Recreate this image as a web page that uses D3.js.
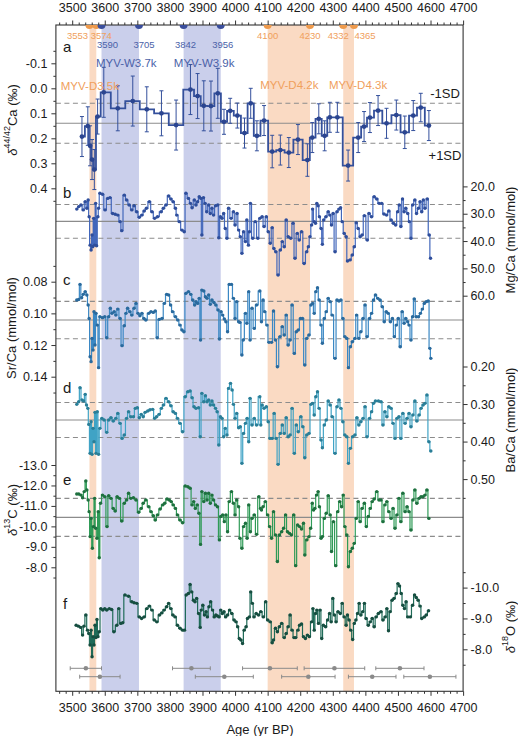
<!DOCTYPE html>
<html><head><meta charset="utf-8">
<script src="https://cdn.jsdelivr.net/npm/d3@7"></script>
<style>
body{margin:0;background:#fff}
text{font-family:"Liberation Sans",Arial,sans-serif;fill:#1a1a1a}
</style></head>
<body><svg id="chart" width="518" height="736"></svg>
<script>
// ---------------- DATA ----------------
const xMajorTicks = [3500,3600,3700,3800,3900,4000,4100,4200,4300,4400,4500,4600,4700];
const orangeBands = [[3553,3574],[4100,4230],[4332,4365]];
const blueBands = [[3590,3705],[3842,3956]];
const orangeDates = [3553,3574,4100,4230,4332,4365];
const blueDates = [3590,3705,3842,3956];
const bandNames = ["MYV-D3.5k","MYV-W3.7k","MYV-W3.9k","MYV-D4.2k","MYV-D4.3k"];
const datingAge = [3542,3585,3866,3967,4107,4225,4305,4421,4506,4598];
const datingErr = [48,62,58,89,84,82,93,73,74,80];
// mean and 1SD of panels a-e
const refMean = [0.14, 32.8, 0.1042, 0.3426, -10.44];
const refSD = [0.08, 6.2, 0.0118, 0.0466, 0.93];

// a: d44/42Ca [age, value, 2se]
const caSeries = [[3530,0.193,0.08],[3548,0.151,0.077],[3555,0.23,0.08],[3561,0.285,0.08],[3568,0.325,0.08],[3578,0.113,0.07],[3597,0.016,0.1],[3640,0.08,0.09],[3686,0.051,0.1],[3729,0.084,0.09],[3774,0.1,0.09],[3819,0.147,0.1],[3863,0.005,0.1],[3885,0.031,0.09],[3904,0.07,0.1],[3926,0.071,0.1],[3947,0.02,0.1],[3966,0.134,0.05],[3985,0.09,0.05],[4007,0.109,0.05],[4029,0.179,0.06],[4048,0.06,0.06],[4067,0.19,0.06],[4089,0.129,0.06],[4114,0.253,0.065],[4139,0.247,0.06],[4165,0.257,0.06],[4193,0.205,0.06],[4222,0.287,0.065],[4237,0.197,0.06],[4257,0.122,0.06],[4275,0.19,0.06],[4291,0.116,0.06],[4314,0.116,0.06],[4347,0.309,0.062],[4378,0.197,0.06],[4396,0.153,0.06],[4414,0.117,0.06],[4439,0.089,0.06],[4465,0.14,0.06],[4495,0.107,0.06],[4521,0.176,0.065],[4547,0.109,0.06],[4570,0.077,0.057],[4595,0.149,0.06]];

// b: Mg/Ca
const mgSeries = [[3514,28.3],[3520,27.4],[3527,26.8],[3534,28.6],[3540,25.6],[3545,28.0],[3549,25.0],[3552,31.1],[3555,41.5],[3558,43.3],[3561,37.8],[3563,42.1],[3566,31.7],[3569,41.5],[3572,26.2],[3575,41.7],[3579,31.1],[3581,28.0],[3585,22.5],[3593,22.9],[3601,28.6],[3609,24.4],[3616,24.1],[3624,29.9],[3632,30.2],[3640,30.5],[3647,32.9],[3652,36.2],[3660,23.2],[3667,25.0],[3675,26.8],[3683,28.6],[3690,27.1],[3698,29.3],[3706,31.3],[3714,30.5],[3721,29.0],[3728,28.0],[3737,25.6],[3745,29.3],[3753,31.7],[3762,31.1],[3773,29.3],[3780,28.0],[3788,26.8],[3796,23.5],[3803,24.6],[3810,25.6],[3817,28.0],[3821,30.5],[3829,32.9],[3837,36.0],[3844,36.6],[3849,22.5],[3857,24.4],[3863,26.2],[3868,27.8],[3875,25.0],[3880,26.8],[3885,25.6],[3890,23.8],[3895,24.4],[3898,37.8],[3903,24.1],[3908,26.2],[3913,29.3],[3919,26.8],[3924,29.9],[3929,28.0],[3934,30.5],[3940,27.1],[3947,26.8],[3950,38.8],[3955,31.1],[3960,31.7],[3965,29.9],[3970,35.4],[3975,39.0],[3980,28.0],[3988,31.7],[3995,29.3],[4000,34.1],[4006,29.9],[4011,36.0],[4016,38.4],[4021,44.5],[4026,36.6],[4032,40.2],[4036,32.3],[4041,41.5],[4044,36.6],[4047,26.2],[4054,39.0],[4062,32.9],[4070,39.0],[4076,31.7],[4083,31.1],[4089,34.7],[4096,31.1],[4102,36.6],[4108,40.8],[4114,35.1],[4119,42.7],[4125,43.9],[4132,52.4],[4139,43.3],[4145,40.2],[4151,42.1],[4157,32.3],[4163,38.4],[4171,39.0],[4178,33.5],[4184,46.3],[4191,37.2],[4197,39.6],[4204,36.6],[4212,48.2],[4220,43.9],[4225,42.1],[4230,38.4],[4235,34.1],[4238,28.3],[4243,32.9],[4247,33.5],[4251,26.2],[4255,27.1],[4259,31.1],[4264,35.4],[4268,41.2],[4272,32.3],[4279,31.1],[4286,29.3],[4291,30.5],[4296,34.1],[4301,29.9],[4307,43.9],[4313,29.3],[4319,28.3],[4324,27.8],[4329,32.9],[4335,37.2],[4341,38.4],[4345,47.3],[4353,46.9],[4360,45.1],[4366,42.1],[4372,33.3],[4378,35.4],[4384,38.4],[4390,37.8],[4397,30.7],[4406,39.6],[4411,29.9],[4419,31.1],[4427,23.8],[4435,24.6],[4442,26.2],[4450,26.2],[4457,30.1],[4465,30.5],[4472,29.0],[4479,32.3],[4486,33.5],[4493,34.1],[4499,29.3],[4504,26.8],[4509,34.7],[4514,24.6],[4519,29.3],[4524,28.0],[4530,29.9],[4535,32.9],[4540,39.0],[4545,26.8],[4552,25.0],[4557,29.9],[4563,28.0],[4568,25.6],[4573,29.3],[4578,25.0],[4583,28.0],[4590,24.6],[4596,37.8],[4600,46.3]];

// c: Sr/Ca
const srSeries = [[3514,0.0916],[3520,0.0912],[3524,0.0817],[3529,0.0901],[3534,0.088],[3540,0.0863],[3545,0.0884],[3549,0.0947],[3552,0.1032],[3555,0.1274],[3558,0.1305],[3561,0.1158],[3564,0.1232],[3567,0.0989],[3570,0.12],[3573,0.1],[3577,0.1074],[3581,0.1343],[3585,0.1021],[3593,0.1027],[3600,0.1021],[3606,0.1154],[3612,0.1021],[3617,0.0968],[3622,0.1],[3629,0.0989],[3634,0.1011],[3640,0.0973],[3647,0.1032],[3653,0.1204],[3660,0.1078],[3665,0.1],[3670,0.0968],[3677,0.0989],[3683,0.1011],[3690,0.0968],[3696,0.0937],[3702,0.1],[3708,0.1015],[3714,0.1],[3720,0.1032],[3726,0.1042],[3735,0.1],[3742,0.0989],[3749,0.0994],[3755,0.0985],[3761,0.1154],[3767,0.1038],[3776,0.1032],[3783,0.0937],[3790,0.088],[3796,0.0884],[3802,0.0947],[3808,0.0989],[3817,0.1021],[3824,0.1042],[3831,0.1074],[3837,0.1105],[3843,0.1116],[3849,0.0874],[3857,0.0863],[3864,0.088],[3870,0.0916],[3876,0.0947],[3880,0.0926],[3885,0.0937],[3890,0.0905],[3894,0.1168],[3898,0.0853],[3904,0.0859],[3909,0.0895],[3914,0.0905],[3919,0.0884],[3924,0.0943],[3929,0.0916],[3935,0.0931],[3941,0.0947],[3948,0.0979],[3952,0.1162],[3957,0.0989],[3962,0.1011],[3967,0.1036],[3972,0.1053],[3977,0.1116],[3982,0.0817],[3989,0.0817],[3995,0.0905],[4000,0.1032],[4005,0.0926],[4011,0.1053],[4015,0.1057],[4021,0.1263],[4025,0.1168],[4032,0.1],[4036,0.1063],[4042,0.0863],[4046,0.1168],[4052,0.0968],[4059,0.1095],[4066,0.0947],[4076,0.0859],[4081,0.1053],[4086,0.0916],[4091,0.0989],[4098,0.1074],[4104,0.1183],[4112,0.1183],[4118,0.0985],[4124,0.1168],[4130,0.1337],[4138,0.1147],[4145,0.1084],[4151,0.1137],[4157,0.1011],[4163,0.12],[4169,0.1168],[4175,0.0947],[4182,0.1253],[4188,0.1116],[4194,0.1105],[4201,0.1032],[4207,0.1032],[4214,0.1326],[4220,0.1158],[4227,0.1137],[4233,0.0947],[4238,0.0937],[4243,0.1],[4248,0.0863],[4253,0.0838],[4258,0.0916],[4264,0.1074],[4268,0.1189],[4274,0.1032],[4280,0.0989],[4286,0.0905],[4292,0.0926],[4298,0.1011],[4307,0.1284],[4313,0.0916],[4319,0.0922],[4325,0.0916],[4331,0.1032],[4337,0.1147],[4343,0.1158],[4348,0.1343],[4354,0.1211],[4360,0.1179],[4368,0.1158],[4373,0.1011],[4380,0.1158],[4386,0.1116],[4393,0.1032],[4399,0.0947],[4405,0.1147],[4413,0.1032],[4419,0.1],[4425,0.0916],[4431,0.0884],[4438,0.0905],[4445,0.0916],[4452,0.0958],[4458,0.1053],[4464,0.0989],[4470,0.1],[4477,0.1053],[4483,0.1032],[4489,0.1147],[4495,0.1074],[4501,0.1032],[4507,0.1211],[4513,0.0989],[4519,0.1063],[4524,0.1032],[4530,0.1053],[4534,0.1074],[4540,0.1168],[4545,0.1021],[4550,0.0909],[4556,0.1021],[4563,0.1021],[4569,0.1],[4575,0.0973],[4581,0.0937],[4587,0.0926],[4593,0.0922],[4598,0.1221],[4601,0.1284]];

// d: Ba/Ca
const baSeries = [[3514,0.3009],[3520,0.2938],[3524,0.2565],[3530,0.2893],[3535,0.292],[3540,0.2742],[3544,0.3027],[3548,0.3115],[3551,0.3542],[3555,0.4314],[3558,0.3471],[3561,0.4341],[3564,0.3648],[3567,0.4004],[3570,0.3222],[3573,0.4314],[3577,0.3204],[3581,0.4341],[3585,0.3648],[3591,0.3382],[3598,0.3426],[3606,0.3755],[3612,0.3426],[3619,0.3364],[3626,0.3453],[3634,0.3382],[3640,0.3249],[3647,0.3515],[3653,0.3915],[3660,0.3826],[3667,0.3382],[3673,0.3204],[3680,0.3337],[3688,0.3337],[3694,0.3115],[3700,0.3098],[3706,0.3364],[3712,0.3275],[3718,0.3337],[3724,0.3222],[3732,0.3187],[3739,0.3151],[3747,0.3142],[3753,0.3382],[3759,0.3337],[3767,0.3275],[3774,0.3115],[3780,0.3027],[3788,0.2849],[3796,0.2938],[3803,0.3044],[3810,0.3204],[3817,0.3249],[3823,0.3382],[3831,0.3515],[3839,0.3737],[3847,0.2805],[3855,0.2671],[3862,0.2654],[3868,0.2831],[3874,0.3071],[3880,0.3115],[3888,0.3098],[3893,0.387],[3898,0.2716],[3904,0.2938],[3909,0.2778],[3914,0.2938],[3919,0.2893],[3924,0.3027],[3929,0.292],[3934,0.3027],[3940,0.3115],[3945,0.3204],[3950,0.4092],[3955,0.3337],[3960,0.3382],[3965,0.387],[3970,0.3648],[3975,0.3826],[3980,0.2583],[3986,0.2449],[3991,0.2627],[3995,0.3009],[4000,0.3382],[4005,0.3249],[4011,0.3631],[4016,0.3604],[4021,0.4581],[4026,0.3782],[4032,0.3515],[4037,0.3382],[4042,0.4004],[4046,0.2849],[4052,0.3559],[4059,0.3382],[4066,0.3559],[4076,0.2805],[4079,0.3559],[4083,0.3027],[4089,0.3115],[4096,0.3071],[4102,0.3471],[4107,0.3915],[4114,0.3915],[4120,0.3249],[4126,0.3915],[4132,0.4607],[4139,0.3782],[4145,0.3559],[4151,0.3782],[4157,0.3364],[4163,0.387],[4169,0.3826],[4175,0.3115],[4182,0.4314],[4188,0.3559],[4194,0.3737],[4202,0.3337],[4208,0.3604],[4214,0.443],[4220,0.3826],[4227,0.3782],[4233,0.3009],[4238,0.2982],[4243,0.3293],[4248,0.2805],[4253,0.2671],[4258,0.3115],[4264,0.3959],[4268,0.4163],[4274,0.3559],[4280,0.3426],[4286,0.292],[4292,0.3027],[4298,0.3337],[4307,0.4314],[4313,0.3071],[4319,0.2893],[4325,0.3115],[4331,0.3471],[4337,0.3826],[4343,0.387],[4348,0.4581],[4354,0.4181],[4361,0.387],[4368,0.3826],[4374,0.3364],[4380,0.3559],[4386,0.3471],[4393,0.3382],[4399,0.3071],[4405,0.387],[4413,0.3382],[4419,0.3204],[4425,0.2982],[4431,0.292],[4440,0.292],[4448,0.2938],[4454,0.3559],[4460,0.3204],[4466,0.3337],[4472,0.3071],[4479,0.3115],[4485,0.3515],[4491,0.3915],[4497,0.3382],[4503,0.3337],[4509,0.3915],[4515,0.3249],[4522,0.3515],[4528,0.3382],[4534,0.3249],[4540,0.3604],[4546,0.3293],[4552,0.292],[4558,0.3453],[4565,0.3293],[4571,0.3115],[4577,0.3027],[4583,0.2982],[4589,0.276],[4595,0.4004],[4601,0.4252]];

// e: d13C
const c13Series = [[3514,-11.58],[3520,-11.58],[3527,-11.53],[3532,-11.40],[3537,-11.70],[3542,-12.22],[3545,-11.78],[3549,-11.29],[3552,-10.72],[3555,-9.50],[3558,-10.39],[3562,-8.93],[3565,-9.99],[3569,-11.37],[3572,-9.91],[3576,-9.42],[3580,-10.72],[3583,-8.47],[3587,-11.13],[3593,-11.53],[3600,-11.45],[3607,-9.99],[3612,-11.50],[3619,-11.37],[3626,-10.88],[3632,-10.75],[3638,-11.45],[3645,-11.37],[3652,-10.26],[3660,-11.13],[3667,-11.29],[3673,-11.62],[3680,-11.37],[3688,-11.40],[3696,-11.29],[3704,-10.69],[3712,-10.88],[3718,-11.13],[3726,-11.29],[3735,-10.96],[3742,-10.72],[3749,-10.52],[3755,-10.31],[3762,-10.56],[3770,-10.85],[3778,-11.05],[3784,-11.13],[3791,-11.34],[3798,-11.29],[3804,-11.21],[3810,-11.05],[3817,-10.88],[3823,-10.56],[3831,-10.31],[3839,-10.18],[3847,-11.97],[3855,-11.94],[3862,-11.86],[3868,-11.05],[3873,-11.21],[3878,-10.88],[3884,-11.05],[3889,-10.64],[3894,-9.12],[3898,-11.70],[3904,-11.21],[3909,-11.62],[3914,-11.29],[3919,-11.62],[3924,-11.13],[3929,-11.53],[3934,-11.29],[3940,-11.05],[3946,-10.96],[3952,-9.34],[3956,-10.48],[3962,-10.56],[3967,-10.23],[3972,-10.56],[3977,-9.74],[3982,-11.21],[3989,-11.70],[3995,-11.13],[4000,-10.56],[4005,-11.29],[4011,-10.96],[4015,-9.42],[4021,-8.93],[4026,-9.99],[4032,-10.15],[4037,-9.42],[4042,-11.05],[4047,-9.74],[4052,-10.39],[4059,-10.56],[4066,-9.61],[4073,-11.45],[4078,-10.88],[4081,-10.80],[4086,-10.96],[4093,-11.21],[4100,-10.56],[4106,-9.99],[4112,-9.42],[4118,-10.72],[4124,-9.58],[4130,-8.28],[4136,-9.58],[4143,-9.74],[4149,-9.91],[4155,-10.56],[4161,-9.74],[4167,-9.66],[4173,-9.58],[4180,-10.56],[4186,-8.08],[4192,-10.07],[4198,-9.99],[4204,-9.87],[4210,-10.15],[4214,-8.60],[4220,-9.34],[4227,-9.50],[4232,-9.91],[4237,-11.13],[4241,-10.80],[4245,-10.88],[4250,-11.53],[4255,-11.70],[4259,-10.96],[4264,-9.42],[4268,-9.50],[4274,-10.39],[4280,-10.64],[4286,-11.50],[4292,-10.56],[4296,-8.77],[4302,-10.23],[4309,-8.08],[4315,-10.72],[4321,-11.21],[4327,-10.96],[4332,-11.53],[4337,-9.99],[4343,-9.58],[4348,-8.03],[4354,-8.77],[4360,-8.93],[4366,-9.17],[4372,-10.39],[4378,-11.21],[4384,-10.23],[4390,-10.88],[4397,-11.13],[4403,-9.99],[4409,-10.48],[4415,-10.88],[4421,-11.21],[4427,-11.34],[4435,-11.70],[4442,-11.29],[4448,-11.29],[4454,-10.23],[4460,-11.05],[4466,-11.21],[4472,-10.72],[4479,-10.39],[4485,-10.88],[4491,-9.91],[4497,-10.56],[4503,-11.37],[4509,-10.23],[4515,-11.62],[4522,-10.72],[4528,-10.96],[4534,-10.72],[4540,-9.82],[4546,-11.29],[4552,-11.78],[4558,-11.13],[4565,-11.37],[4571,-11.45],[4577,-11.45],[4583,-11.53],[4589,-11.78],[4595,-10.39]];

// f: d18O
const o18Series = [[3512,-8.78],[3519,-8.75],[3526,-8.71],[3532,-8.46],[3536,-8.75],[3542,-9.11],[3547,-8.62],[3551,-8.51],[3555,-8.14],[3558,-8.62],[3561,-7.76],[3564,-8.41],[3567,-8.14],[3570,-8.78],[3573,-8.38],[3576,-8.97],[3579,-8.41],[3583,-8.57],[3588,-9.32],[3594,-9.27],[3600,-9.32],[3606,-9.27],[3614,-9.32],[3621,-9.29],[3628,-8.57],[3637,-8.78],[3643,-9.32],[3649,-8.84],[3655,-8.86],[3662,-9.76],[3673,-9.72],[3683,-9.54],[3690,-9.51],[3698,-9.49],[3706,-9.05],[3713,-9.00],[3721,-9.05],[3729,-9.32],[3737,-9.40],[3745,-9.27],[3752,-8.95],[3760,-8.89],[3768,-9.11],[3775,-9.18],[3782,-9.27],[3790,-9.38],[3796,-9.49],[3803,-9.32],[3809,-9.11],[3816,-9.05],[3823,-8.78],[3831,-8.68],[3839,-8.62],[3845,-8.62],[3850,-9.76],[3857,-9.81],[3862,-10.10],[3867,-9.86],[3872,-9.59],[3877,-9.54],[3882,-9.65],[3888,-9.16],[3893,-8.71],[3896,-9.27],[3901,-9.43],[3906,-9.11],[3911,-9.22],[3915,-9.05],[3920,-9.38],[3925,-9.54],[3931,-9.27],[3936,-9.05],[3941,-9.11],[3946,-9.08],[3951,-9.05],[3956,-9.27],[3961,-9.16],[3966,-9.22],[3971,-9.05],[3977,-9.11],[3983,-9.27],[3990,-9.16],[3997,-8.95],[4003,-8.89],[4008,-8.73],[4013,-8.35],[4018,-8.30],[4023,-8.19],[4028,-8.62],[4034,-8.73],[4038,-9.00],[4044,-9.05],[4048,-9.86],[4053,-9.49],[4058,-9.05],[4065,-9.16],[4072,-9.11],[4079,-9.22],[4087,-9.05],[4094,-9.54],[4100,-8.95],[4108,-8.89],[4114,-8.21],[4118,-8.30],[4124,-8.68],[4130,-8.57],[4136,-8.73],[4143,-8.84],[4151,-8.38],[4157,-8.51],[4163,-8.73],[4169,-9.11],[4175,-8.62],[4181,-8.38],[4186,-8.38],[4193,-8.62],[4198,-8.78],[4204,-8.82],[4210,-8.41],[4216,-8.35],[4222,-8.46],[4228,-8.41],[4235,-8.89],[4239,-9.32],[4243,-8.62],[4247,-9.16],[4251,-9.27],[4256,-8.84],[4261,-9.27],[4266,-8.35],[4271,-8.78],[4278,-8.73],[4284,-8.95],[4290,-9.16],[4295,-8.89],[4300,-9.65],[4305,-9.11],[4310,-8.89],[4316,-9.22],[4323,-9.16],[4329,-9.49],[4335,-9.05],[4341,-8.78],[4345,-9.11],[4350,-8.95],[4355,-8.62],[4361,-8.32],[4366,-8.84],[4371,-8.95],[4376,-9.16],[4381,-9.49],[4386,-9.11],[4392,-9.22],[4397,-9.49],[4402,-9.00],[4409,-8.78],[4415,-8.89],[4421,-9.00],[4427,-8.73],[4433,-9.05],[4440,-9.16],[4448,-9.22],[4454,-8.95],[4461,-9.05],[4466,-9.32],[4471,-8.60],[4476,-9.22],[4482,-9.59],[4488,-9.65],[4495,-9.81],[4500,-10.13],[4505,-10.05],[4510,-9.81],[4515,-9.43],[4520,-9.32],[4525,-9.54],[4530,-9.05],[4538,-9.05],[4545,-9.43],[4551,-9.76],[4556,-9.68],[4562,-9.59],[4568,-9.40],[4573,-9.00],[4581,-9.05],[4587,-9.11],[4594,-9.25]];

// ---------------- LAYOUT ----------------
const svg = d3.select('#chart');
const X0 = 55.9, X1 = 463.1, Y0 = 25, Y1 = 691.3;
const x = d3.scaleLinear().domain([3450, 4700]).range([X0, X1]);
const ORANGE_BAND = '#fadac3', BLUE_BAND = '#cacfeb';
const ORANGE_TXT = '#f0a05c', BLUE_TXT = '#4a62a8';

// bands
const gBands = svg.append('g');
gBands.selectAll('rect.ob').data(orangeBands).join('rect')
  .attr('x', d => x(d[0])).attr('width', d => x(d[1]) - x(d[0]))
  .attr('y', Y0).attr('height', Y1 - Y0).attr('fill', ORANGE_BAND);
gBands.selectAll('rect.bb').data(blueBands).join('rect')
  .attr('x', d => x(d[0])).attr('width', d => x(d[1]) - x(d[0]))
  .attr('y', Y0).attr('height', Y1 - Y0).attr('fill', BLUE_BAND);

const panels = [
  {id:'a', data:caSeries, dom:[-0.1,0.4], rng:[63.3,188.3], ref:0, color:'#34509c', dot:'#2b4590', lw:1.8, r:2.4,
   side:'left', majors:[-0.1,0,0.1,0.2,0.3,0.4], minors:[-0.15,-0.05,0.05,0.15,0.25,0.35,0.45], fmt:1, lx:63, ly:52},
  {id:'b', data:mgSeries, dom:[20,60], rng:[186.4,295.7], ref:1, color:'#4267bb', dot:'#2f4e9b', lw:1.2, r:1.7,
   side:'right', majors:[20,30,40,50,60], minors:[25,35,45,55], fmt:1, lx:63, ly:198},
  {id:'c', data:srSeries, dom:[0.08,0.14], rng:[281.7,376.7], ref:2, color:'#3b88c4', dot:'#2a6a9d', lw:1.2, r:1.7,
   side:'left', majors:[0.08,0.10,0.12,0.14], minors:[0.07,0.09,0.11,0.13,0.15], fmt:2, lx:63, ly:285},
  {id:'d', data:baSeries, dom:[0.2,0.5], rng:[366.5,479.1], ref:3, color:'#40a3c5', dot:'#2a7e97', lw:1.2, r:1.7,
   side:'right', majors:[0.2,0.3,0.4,0.5], minors:[0.25,0.35,0.45,0.55], fmt:2, lx:63, ly:393},
  {id:'e', data:c13Series, dom:[-13,-8], rng:[465,567.3], ref:4, color:'#2f9b57', dot:'#1e703f', lw:1.2, r:1.7,
   side:'left', majors:[-13,-12,-11,-10,-9,-8], minors:[-12.5,-11.5,-10.5,-9.5,-8.5,-7.5], fmt:1, lx:63, ly:485},
  {id:'f', data:o18Series, dom:[-10,-8], rng:[587.6,649.3], ref:-1, color:'#1f6b58', dot:'#164e40', lw:1.2, r:1.7,
   side:'right', majors:[-10,-9,-8], minors:[-10.5,-9.5,-8.5,-7.5], fmt:1, lx:63, ly:609}
];

// reference lines
panels.forEach(p => {
  p.y = d3.scaleLinear().domain(p.dom).range(p.rng);
  if (p.ref < 0) return;
  const m = refMean[p.ref], s = refSD[p.ref];
  const g = svg.append('g');
  [m - s, m + s].forEach(v => g.append('line').attr('x1', X0).attr('x2', X1)
    .attr('y1', p.y(v)).attr('y2', p.y(v)).attr('stroke', '#8c8c8c').attr('stroke-width', 1.1).attr('stroke-dasharray', '5,3.5'));
  g.append('line').attr('x1', X0).attr('x2', X1).attr('y1', p.y(m)).attr('y2', p.y(m))
    .attr('stroke', '#8c8c8c').attr('stroke-width', 1.1);
});

// series
panels.forEach(p => {
  const g = svg.append('g');
  if (p.id === 'a') {
    const eb = g.append('g').attr('stroke', p.color).attr('stroke-width', 1);
    p.data.forEach(d => {
      const xx = x(d[0]);
      eb.append('line').attr('x1', xx).attr('x2', xx).attr('y1', p.y(d[1] - d[2])).attr('y2', p.y(d[1] + d[2]));
      eb.append('line').attr('x1', xx - 2).attr('x2', xx + 2).attr('y1', p.y(d[1] - d[2])).attr('y2', p.y(d[1] - d[2]));
      eb.append('line').attr('x1', xx - 2).attr('x2', xx + 2).attr('y1', p.y(d[1] + d[2])).attr('y2', p.y(d[1] + d[2]));
    });
  }
  const line = d3.line().x(d => x(d[0])).y(d => p.y(d[1])).curve(d3.curveStep);
  g.append('path').datum(p.data).attr('d', line).attr('fill', 'none')
    .attr('stroke', p.color).attr('stroke-width', p.lw).attr('stroke-linejoin', 'miter');
  g.selectAll('circle').data(p.data).join('circle')
    .attr('cx', d => x(d[0])).attr('cy', d => p.y(d[1])).attr('r', p.r).attr('fill', p.dot);
});

// dating error bars at bottom
const dy = [668.3, 676.7];
const gD = svg.append('g').attr('stroke', '#8a8a8a').attr('stroke-width', 1);
datingAge.forEach((a, i) => {
  const yy = dy[i % 2];
  gD.append('line').attr('x1', x(a - datingErr[i])).attr('x2', x(a + datingErr[i])).attr('y1', yy).attr('y2', yy);
  gD.append('line').attr('x1', x(a - datingErr[i])).attr('x2', x(a - datingErr[i])).attr('y1', yy - 2).attr('y2', yy + 2);
  gD.append('line').attr('x1', x(a + datingErr[i])).attr('x2', x(a + datingErr[i])).attr('y1', yy - 2).attr('y2', yy + 2);
  gD.append('circle').attr('cx', x(a)).attr('cy', yy).attr('r', 2.3).attr('fill', '#8a8a8a').attr('stroke', 'none');
});

// frame
svg.append('rect').attr('x', X0).attr('y', Y0).attr('width', X1 - X0).attr('height', Y1 - Y0)
  .attr('fill', 'none').attr('stroke', '#333').attr('stroke-width', 1.1);

function styleAxis(g) {
  g.select('.domain').remove();
  g.selectAll('line').attr('stroke', '#333').attr('stroke-width', 1);
  g.selectAll('text').attr('font-size', 12.5).attr('fill', '#1a1a1a').attr('font-family', '"Liberation Sans",Arial,sans-serif');
}

// x axes
const xMinor = d3.range(3460, 4701, 20).filter(v => v % 100 !== 0);
[['top', Y0], ['bottom', Y1]].forEach(([side, yy]) => {
  const mk = side === 'top' ? d3.axisTop : d3.axisBottom;
  const gm = svg.append('g').attr('transform', `translate(0,${yy})`).call(mk(x).tickValues(xMinor).tickSize(2.5).tickFormat(''));
  styleAxis(gm);
  const gM = svg.append('g').attr('transform', `translate(0,${yy})`)
    .call(mk(x).tickValues(xMajorTicks).tickSize(4.5).tickPadding(side === 'top' ? 8.5 : 7).tickFormat(d => d));
  styleAxis(gM);
});

// y axes
panels.forEach(p => {
  const xx = p.side === 'left' ? X0 : X1;
  const mk = p.side === 'left' ? d3.axisLeft : d3.axisRight;
  const gm = svg.append('g').attr('transform', `translate(${xx},0)`).call(mk(p.y).tickValues(p.minors).tickSize(2.5).tickFormat(''));
  styleAxis(gm);
  const gM = svg.append('g').attr('transform', `translate(${xx},0)`)
    .call(mk(p.y).tickValues(p.majors).tickSize(4.5).tickPadding(p.side === 'left' ? 4 : 3).tickFormat(d => d.toFixed(p.fmt)));
  styleAxis(gM);
  svg.append('text').attr('x', p.lx).attr('y', p.ly).attr('font-size', 15).text(p.id);
});

// top dating dots (half circles below axis)
const halfArc = d3.arc().innerRadius(0).outerRadius(4).startAngle(Math.PI / 2).endAngle(3 * Math.PI / 2);
svg.selectAll('path.od').data(orangeDates).join('path').attr('d', halfArc)
  .attr('transform', d => `translate(${x(d)},${Y0})`).attr('fill', '#ee9a4c');
svg.selectAll('path.bd').data(blueDates).join('path').attr('d', halfArc)
  .attr('transform', d => `translate(${x(d)},${Y0})`).attr('fill', '#3a4e9c');

// date labels
const orangeNudge = [-12, 5, 0, 0, -5, 11];
const blueNudge = [6, 5, 2, 2];
orangeDates.forEach((d, i) => svg.append('text').attr('x', x(d) + orangeNudge[i]).attr('y', 38.5)
  .attr('text-anchor', 'middle').attr('font-size', 9.5).style('fill', ORANGE_TXT).text(d));
blueDates.forEach((d, i) => svg.append('text').attr('x', x(d) + blueNudge[i]).attr('y', 48)
  .attr('text-anchor', 'middle').attr('font-size', 9.5).style('fill', BLUE_TXT).text(d));

// band names
const bandCenters = [ (3553+3574)/2, (3590+3705)/2, (3842+3956)/2, (4100+4230)/2, (4332+4365)/2 ];
const bandNudge = [-3, 6, 2, 0.5, 9.5];
const bandY = [90, 66.5, 66.5, 89, 89];
const bandCol = [ORANGE_TXT, BLUE_TXT, BLUE_TXT, ORANGE_TXT, ORANGE_TXT];
bandNames.forEach((n, i) => svg.append('text').attr('x', x(bandCenters[i]) + bandNudge[i]).attr('y', bandY[i])
  .attr('text-anchor', 'middle').attr('font-size', 11.5).style('fill', bandCol[i]).text(n));

// SD labels
svg.append('text').attr('x', 445).attr('y', 98).attr('text-anchor', 'middle').attr('font-size', 13).text('-1SD');
svg.append('text').attr('x', 445).attr('y', 160).attr('text-anchor', 'middle').attr('font-size', 13).text('+1SD');

// axis titles
function vlabel(xx, yy, parts) {
  const t = svg.append('text').attr('transform', `translate(${xx},${yy}) rotate(-90)`)
    .attr('text-anchor', 'middle').attr('dominant-baseline', 'central').attr('font-size', 13);
  parts.forEach(pt => {
    const s = t.append('tspan').text(pt.t);
    if (pt.i) s.attr('font-style', 'italic');
    if (pt.sup) s.attr('font-size', 9).attr('dy', -5);
    if (pt.after) s.attr('dy', 5);
  });
}
vlabel(12, 120, [{t:'δ', i:1}, {t:'44/42', sup:1}, {t:'Ca (‰)', after:1}]);
vlabel(11, 328, [{t:'Sr/Ca (mmol/mol)'}]);
vlabel(12, 510, [{t:'δ', i:1}, {t:'13', sup:1}, {t:'C (‰)', after:1}]);
vlabel(510, 240, [{t:'Mg/Ca (mmol/mol)'}]);
vlabel(510, 420, [{t:'Ba/Ca (mmol/mol)'}]);
vlabel(510, 627, [{t:'δ', i:1}, {t:'18', sup:1}, {t:'O (‰)', after:1}]);

svg.append('text').attr('x', 260).attr('y', 734).attr('text-anchor', 'middle').attr('font-size', 13).text('Age (yr BP)');
</script></body></html>
